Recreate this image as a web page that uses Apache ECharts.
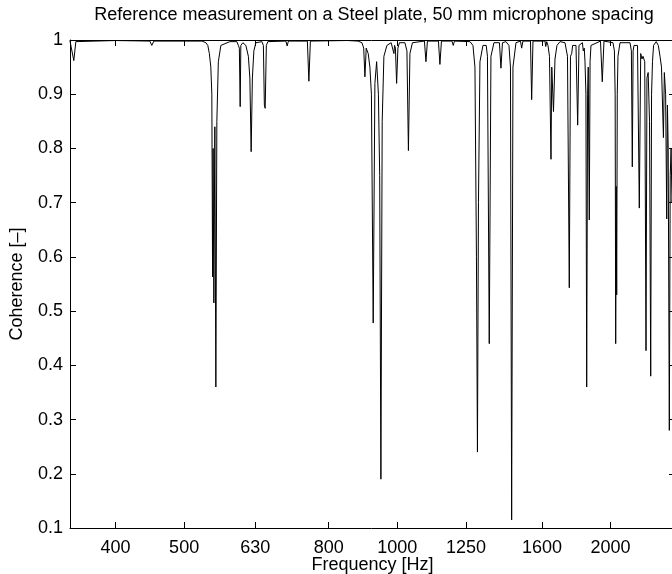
<!DOCTYPE html>
<html>
<head>
<meta charset="utf-8">
<script src="https://cdn.jsdelivr.net/npm/echarts@6.0.0/dist/echarts.min.js"></script>
<style>html,body{margin:0;padding:0;background:#fff;}#c{width:672px;height:574px;}</style>
</head>
<body>
<div id="c"></div>
<script>
const titleText = 'Reference measurement on a Steel plate, 50 mm microphone spacing';
const xName = 'Frequency [Hz]';
const yName = 'Coherence [\u2013]';
const xTicks = [400, 500, 630, 800, 1000, 1250, 1600, 2000];
const yMin = 0.1, yMax = 1, yStep = 0.1;
const xMin = 345, xMax = 2466;

const freq = [345,347.0,349.3,351.6,400,447.2,450.1,453.1,530,536.6,540.0,542.7,545.3,547.1,548.4,549.4,550.7,552.5,554.3,556.1,558.8,563.4,580.1,593.5,596.4,598.3,599.9,601.2,605.2,611.1,616.1,619.1,621.7,624.2,627.2,631.3,643.7,646.9,649.0,650.7,653.2,656.4,696.0,698.9,701.7,746.4,750.0,753.7,845,847.9,851,880,891.2,896.4,899.9,903.7,909.6,914.6,919.1,924.5,929.6,934.8,940.3,944.2,947.9,951.9,957.2,966.6,980,986,988.9,991,993.7,997.6,1001.8,1006.7,1024.9,1031.6,1036.6,1041.7,1045.1,1050.2,1092.0,1097.4,1102.7,1142.9,1148.4,1154.1,1194.2,1199.2,1203.9,1266.2,1278.6,1286.9,1293.2,1297.4,1301.7,1308.0,1320.8,1335,1340.3,1348.2,1355.6,1368.9,1393.6,1400.4,1407.3,1423.4,1437.4,1444.4,1450.0,1456.2,1470.5,1492.2,1498.0,1504.3,1541.5,1547.5,1554.1,1615.9,1620,1625,1631.8,1639.7,1647.8,1652,1655.5,1661.2,1669.4,1680.2,1697,1724.5,1738.6,1748.8,1755.6,1762.5,1768,1787.3,1797.2,1804.8,1825,1830.2,1836,1840.4,1846,1850.6,1856,1860,1866.3,1871,1876.6,1935.5,1946.8,1957.6,2015.8,2025,2030,2033.6,2037,2040.2,2044,2048.8,2062.2,2130.4,2140,2146.4,2152,2158.3,2183.0,2195.8,2205.8,2215,2222.4,2235,2244.2,2251,2260,2270,2278.8,2285,2292,2300,2320,2335.8,2348.8,2360,2375,2382,2392,2400.5,2406,2412,2420.9,2428,2435,2442,2466];
const coherence = [0.998,0.996,0.962,0.997,0.999,0.998,0.99,0.998,0.998,0.995,0.99,0.975,0.95,0.9,0.563,0.8,0.515,0.84,0.36,0.85,0.96,0.99,0.997,0.997,0.99,0.985,0.877,0.99,0.995,0.99,0.97,0.93,0.794,0.93,0.98,0.995,0.997,0.99,0.88,0.874,0.99,0.997,0.998,0.989,0.998,0.998,0.924,0.998,0.999,0.996,0.999,0.998,0.995,0.985,0.932,0.985,0.975,0.95,0.9,0.478,0.92,0.96,0.9,0.75,0.19,0.85,0.97,0.99,0.995,0.993,0.975,0.99,0.985,0.92,0.985,0.995,0.995,0.98,0.796,0.975,0.975,0.995,0.998,0.96,0.998,0.998,0.955,0.998,0.998,0.99,0.998,0.997,0.99,0.95,0.6,0.24,0.7,0.96,0.99,0.99,0.97,0.44,0.97,0.995,0.995,0.948,0.995,0.997,0.99,0.95,0.115,0.95,0.995,0.998,0.985,0.998,0.998,0.89,0.998,0.998,0.988,0.997,0.99,0.97,0.78,0.95,0.95,0.868,0.965,0.99,0.997,0.995,0.97,0.543,0.97,0.975,0.99,0.99,0.843,0.99,0.995,0.98,0.985,0.96,0.9,0.36,0.9,0.95,0.668,0.96,0.99,0.998,0.923,0.998,0.995,0.98,0.9,0.44,0.73,0.53,0.9,0.97,0.995,0.995,0.98,0.766,0.98,0.99,0.99,0.69,0.975,0.965,0.97,0.96,0.427,0.93,0.94,0.85,0.38,0.9,0.96,0.99,0.997,0.99,0.97,0.95,0.82,0.94,0.9,0.67,0.88,0.8,0.28,0.75,0.8,0.7,0.75];

const FONT = '"Liberation Sans", Arial, Helvetica, sans-serif';
const chart = echarts.init(document.getElementById('c'), null, {renderer: 'canvas'});
const tickStyle = {show: true, inside: true, length: 6, lineStyle: {color: '#000', width: 1}};
const lineStyle = {show: true, lineStyle: {color: '#000', width: 1}};
const option = {
  animation: false,
  backgroundColor: '#fff',
  title: {
    text: titleText, left: 374, top: 6, textAlign: 'center', padding: 0,
    textStyle: {fontFamily: FONT, fontSize: 18, fontWeight: 'normal', color: '#000'}
  },
  grid: {left: 70, right: -3, top: 40, bottom: 46, containLabel: false, outerBoundsMode: 'none'},
  xAxis: [{
    type: 'log', min: xMin, max: xMax, position: 'bottom',
    name: xName, nameLocation: 'middle', nameGap: 28, nameMoveOverlap: false,
    nameTextStyle: {fontFamily: FONT, fontSize: 18, color: '#000', verticalAlign: 'top'},
    axisLine: lineStyle,
    axisTick: Object.assign({customValues: xTicks}, tickStyle),
    axisLabel: {customValues: xTicks, margin: 11, fontFamily: FONT, fontSize: 18, color: '#000',
      formatter: v => String(Math.round(v))},
    splitLine: {show: false}, minorTick: {show: false}
  }, {
    type: 'log', min: xMin, max: xMax, position: 'top',
    axisLine: lineStyle,
    axisTick: Object.assign({customValues: xTicks}, tickStyle),
    axisLabel: {show: false, customValues: xTicks},
    splitLine: {show: false}
  }],
  yAxis: [{
    type: 'value', min: yMin, max: yMax, interval: yStep, position: 'left',
    name: yName, nameLocation: 'middle', nameGap: 44, nameRotate: 90, nameMoveOverlap: false,
    nameTextStyle: {fontFamily: FONT, fontSize: 18, color: '#000'},
    axisLine: lineStyle, axisTick: tickStyle,
    axisLabel: {margin: 7, fontFamily: FONT, fontSize: 18, color: '#000'},
    splitLine: {show: false}
  }, {
    type: 'value', min: yMin, max: yMax, interval: yStep, position: 'right',
    axisLine: lineStyle, axisTick: tickStyle, axisLabel: {show: false},
    splitLine: {show: false}
  }],
  series: [{
    type: 'line', xAxisIndex: 0, yAxisIndex: 0,
    data: freq.map((f, i) => [f, coherence[i]]),
    showSymbol: false, symbol: 'none',
    lineStyle: {color: '#000', width: 1},
    clip: true
  }]
};
chart.setOption(option);
</script>
</body>
</html>
